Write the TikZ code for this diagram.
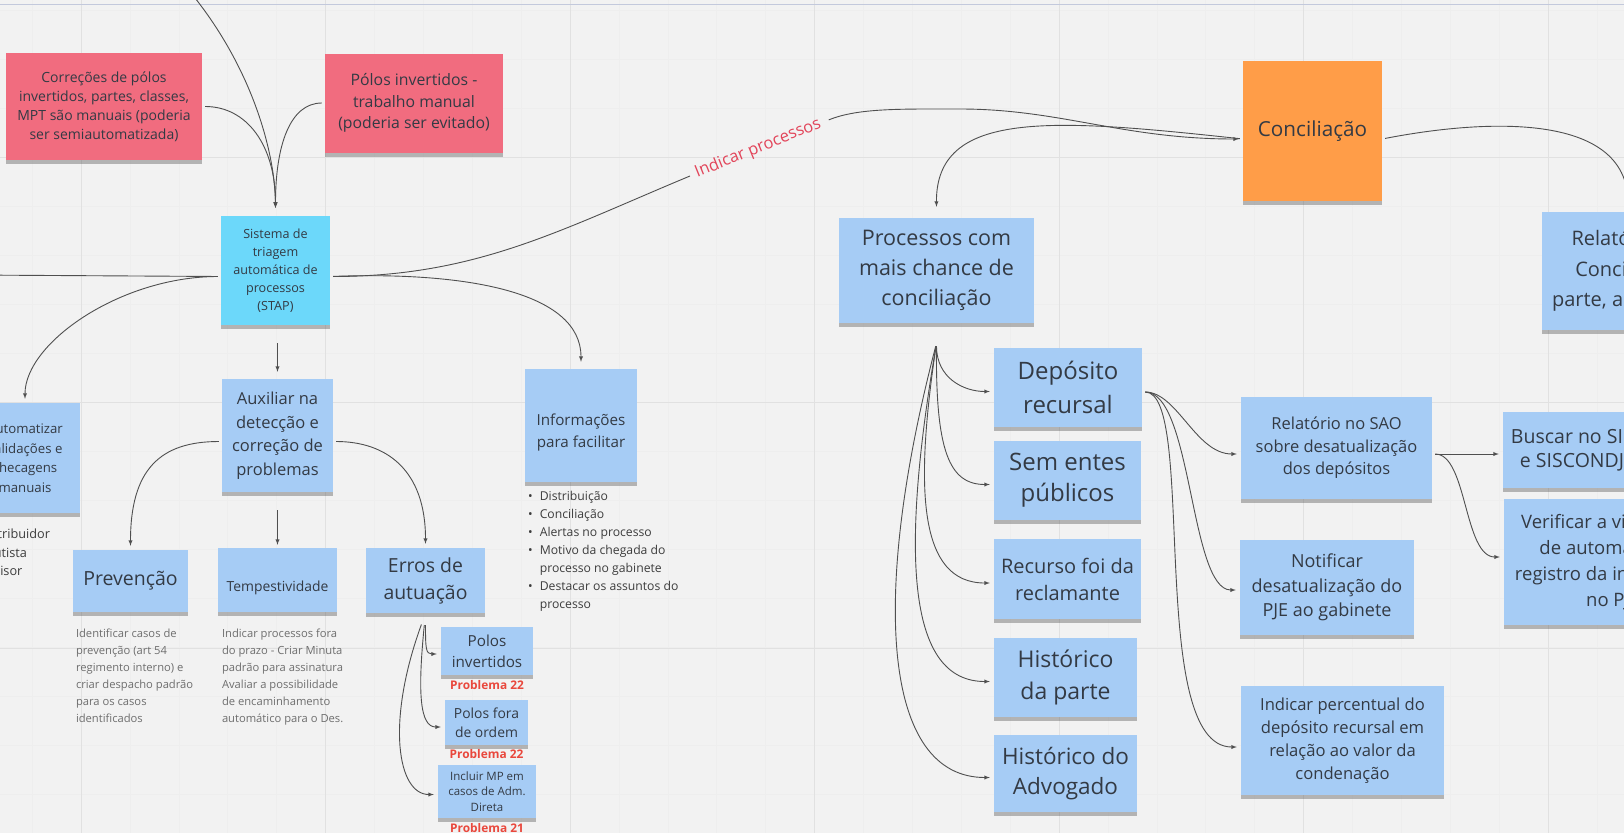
\documentclass[tikz,border=0pt]{standalone}
\usepackage{fontspec}
\setmainfont{Open Sans}
\usetikzlibrary{shapes,arrows,positioning,shadows}

\definecolor{bgcol}{HTML}{F2F2F2}
\definecolor{gridmaj}{HTML}{E1E1E1}
\definecolor{gridmin}{HTML}{EEEEEE}
\definecolor{framecol}{HTML}{C3C9DC}
\definecolor{mred}{HTML}{F16C7F}
\definecolor{mcyan}{HTML}{6CD8FA}
\definecolor{mblue}{HTML}{A6CCF5}
\definecolor{morange}{HTML}{FF9D48}
\definecolor{txt}{HTML}{333A44}
\definecolor{lin}{HTML}{4F4F4F}
\definecolor{desctxt}{HTML}{6E6E6E}
\definecolor{listtxt}{HTML}{3D3D3D}
\definecolor{probred}{HTML}{E9483D}
\definecolor{iptxt}{HTML}{E2455A}

\newcommand{\fsz}[2]{\fontsize{#1pt}{#2pt}\selectfont}

\begin{document}
\begin{tikzpicture}[
                  x=1pt, y=-1pt,
                  sticky/.style={rectangle, align=center, text=txt, inner sep=0pt,
                        drop shadow={shadow xshift=0pt, shadow yshift=-4pt, opacity=.35, fill=black!75}},
                  redsticky/.style={sticky, fill=mred},
                  cyansticky/.style={sticky, fill=mcyan},
                  bluesticky/.style={sticky, fill=mblue},
                  orangesticky/.style={sticky, fill=morange},
                  line/.style={draw=lin, line width=0.9pt, -latex, shorten >=4pt, shorten <=3pt},
                  link/.style={draw=lin, line width=0.9pt, shorten <=3pt},
                  desc/.style={align=left, inner sep=0pt, text=desctxt, font=\fsz{11.2}{17}},
                  prob/.style={inner sep=0pt, text=probred, font=\fsz{11.9}{14}\bfseries},
                  iplabel/.style={inner sep=0pt, text=iptxt, font=\fsz{16.5}{20}}
            ]

            % Board
            \useasboundingbox (0,0) rectangle (1624,833);
            \clip (0,0) rectangle (1624,833);
            \fill[bgcol] (0,0) rectangle (1624,833);
            \foreach \gx in {32.1,81,...,1624} \draw[gridmin, line width=0.5pt] (\gx,0) -- (\gx,833);
            \foreach \gy in {10,59,...,833} \draw[gridmin, line width=0.5pt] (0,\gy) -- (1624,\gy);
            \foreach \gx in {81,325.5,...,1600} \draw[gridmaj, line width=0.8pt] (\gx,0) -- (\gx,833);
            \foreach \gy in {157,402,648} \draw[gridmaj, line width=0.8pt] (0,\gy) -- (1624,\gy);
            \draw[framecol, line width=1.5pt] (0,4.5) -- (1624,4.5);

            % Nodes
            \node [redsticky, minimum width=196pt, minimum height=107pt, font=\fsz{14}{19}] (corr) at (104,106.5) {Correções de pólos\\invertidos, partes, classes,\\MPT são manuais (poderia\\ser semiautomatizada)};
            \node [redsticky, minimum width=178pt, minimum height=99pt, font=\fsz{15.8}{21.5}] (polman) at (414,103) {Pólos invertidos -\\trabalho manual\\(poderia ser evitado)};
            \node [cyansticky, minimum width=109pt, minimum height=109pt, font=\fsz{12.6}{18}] (stap) at (275.5,270.5) {Sistema de\\triagem\\automática de\\processos\\(STAP)};
            \node [bluesticky, minimum width=110pt, minimum height=110pt, font=\fsz{13.2}{19.5}] (autom) at (25,458) {Automatizar\\validações e\\checagens\\manuais};
            \node [bluesticky, minimum width=111pt, minimum height=113pt, font=\fsz{16.5}{23.5}] (aux) at (277.5,435.5) {Auxiliar na\\detecção e\\correção de\\problemas};
            \node [bluesticky, minimum width=112pt, minimum height=113pt] (info) at (581,425.5) {};
            \node [bluesticky, minimum width=115pt, minimum height=62pt, font=\fsz{19.5}{26}] (prev) at (130.5,581) {Prevenção};
            \node [bluesticky, minimum width=119pt, minimum height=64pt] (tempest) at (277.5,580) {};
            \node [bluesticky, minimum width=119pt, minimum height=65pt, font=\fsz{19.4}{27}] (erros) at (425.5,580.5) {Erros de\\autuação};
            \node [bluesticky, minimum width=92pt, minimum height=48pt, font=\fsz{15.2}{21}] (polinv) at (487,651) {Polos\\invertidos};
            \node [bluesticky, minimum width=83pt, minimum height=45pt, font=\fsz{13.9}{19}] (polfora) at (486.5,722.5) {Polos fora\\de ordem};
            \node [bluesticky, minimum width=98pt, minimum height=53pt, font=\fsz{11.5}{15.5}] (incluir) at (487,791.5) {Incluir MP em\\casos de Adm.\\Direta};

            \node [orangesticky, minimum width=139pt, minimum height=140pt, font=\fsz{20.7}{26}] (concil) at (1312.5,131) {Conciliação};
            \node [bluesticky, minimum width=195pt, minimum height=105pt, font=\fsz{21.5}{30}] (proc) at (936.5,270.5) {Processos com\\mais chance de\\conciliação};
            \node [bluesticky, minimum width=148pt, minimum height=79pt, font=\fsz{24}{34}] (dep) at (1068,387.5) {Depósito\\recursal};
            \node [bluesticky, minimum width=147pt, minimum height=79pt, font=\fsz{24}{31}] (sem) at (1067.5,480.5) {Sem entes\\públicos};
            \node [bluesticky, minimum width=147pt, minimum height=80pt, font=\fsz{20}{27}] (rec) at (1067.5,579) {Recurso foi da\\reclamante};
            \node [bluesticky, minimum width=143pt, minimum height=79pt, font=\fsz{23}{32}] (hpar) at (1065.5,677.5) {Histórico\\da parte};
            \node [bluesticky, minimum width=143pt, minimum height=77pt, font=\fsz{22.5}{30}] (hadv) at (1065.5,773.5) {Histórico do\\Advogado};
            \node [bluesticky, minimum width=191pt, minimum height=102pt, font=\fsz{16.5}{22.5}] (sao) at (1336.5,448) {Relatório no SAO\\sobre desatualização\\dos depósitos};
            \node [bluesticky, minimum width=174pt, minimum height=95pt, font=\fsz{18}{24.5}] (notif) at (1327,587.5) {Notificar\\desatualização do\\PJE ao gabinete};
            \node [bluesticky, minimum width=203pt, minimum height=109pt, font=\fsz{16.6}{23}] (perc) at (1342.5,740.5) {Indicar percentual do\\depósito recursal em\\relação ao valor da\\condenação};
            \node [bluesticky, minimum width=172pt, minimum height=118pt, font=\fsz{20}{30.5}] (relconc) at (1628,271) {Relatório de\\Conciliação\\parte, advogado};
            \node [bluesticky, minimum width=138pt, minimum height=76pt, font=\fsz{19.5}{24}] (busc) at (1572,450) {Buscar no SIF\\e SISCONDJ};
            \node [bluesticky, minimum width=218pt, minimum height=126pt, font=\fsz{18.5}{26}] (verif) at (1613,562) {Verificar a viabilidade\\de automatizar o\\registro da informação\\no PJE};

            \coordinate (topin) at (180,-20);
            \coordinate (leftout) at (-30,275);
            \coordinate (stapl) at ([yshift=-6pt]stap.west);
            \coordinate (stapr) at ([yshift=-6pt]stap.east);
            \coordinate (ipa) at (690,176);
            \coordinate (ipb) at (826,121);
            \coordinate (ipc) at (960,109);
            \coordinate (fan) at ([yshift=-20pt]proc.south);
            \coordinate (depr) at ([yshift=-4.5pt]dep.east);
            \coordinate (saor) at ([yshift=-6pt]sao.east);

            % Edges
            \path [line, shorten >=8pt] (topin) .. controls (250,60) and (275,150) .. (stap.north);
            \path [line, shorten >=8pt] (corr.east) .. controls +(45,0) and +(0,-70) .. (stap.north);
            \path [line, shorten >=8pt] (polman.west) .. controls +(-35,0) and +(0,-70) .. (stap.north);
            \path [line] (stapl) -- (leftout);
            \path [line] (stapl) .. controls +(-100,0) and +(0,-60) .. (autom.north);
            \path [link] (stapr) .. controls +(146,0) and +(-130,54) .. (ipa);
            \path [line] (ipb) .. controls +(32,-13) and +(-60,0) .. (ipc) .. controls +(100,0) and +(-120,0) .. ([yshift=-8pt]concil.west);
            \path [line, shorten >=7pt] (stapr) .. controls +(136,-5) and +(0,-77) .. (info.north);
            \path [line, shorten <=18pt, shorten >=7pt] (stap.south -| aux.north) -- (aux.north);
            \path [line, shorten <=18pt, shorten >=3pt] (aux.south) -- (tempest.north);
            \path [line] ([yshift=-6pt]aux.west) .. controls +(-62,0) and +(0,-80) .. (prev.north);
            \path [line] ([yshift=-6pt]aux.east) .. controls +(53,0) and +(0,-78) .. (erros.north);
            \path [line, shorten <=12pt] (erros.south) .. controls +(0,35) and +(-15,0) .. ([yshift=-3pt]polinv.west);
            \path [line, shorten <=12pt] (erros.south) .. controls +(-8,80) and +(-25,0) .. ([yshift=-4.5pt]polfora.west);
            \path [line, shorten <=12pt] (erros.south) .. controls +(-40,110) and +(-40,0) .. ([yshift=-3pt]incluir.west);

            \path [line, shorten >=11pt] ([yshift=-8pt]concil.west) .. controls (1050,118) and (936,110) .. (proc.north);
            \path [line] ([yshift=-8pt]concil.east) .. controls (1480,120) and (1628,110) .. (relconc.north);
            \path [line] (fan) .. controls +(0,35) and +(-30,0) .. ([yshift=-4pt]dep.west);
            \path [line] (fan) .. controls +(-1,107) and +(-45,0) .. ([yshift=-4pt]sem.west);
            \path [line] (fan) .. controls +(-22,147) and +(-75,0) .. ([yshift=-4pt]rec.west);
            \path [line] (fan) .. controls +(-37,217) and +(-85,0) .. ([yshift=-4pt]hpar.west);
            \path [line] (fan) .. controls +(-67,257) and +(-110,0) .. ([yshift=-4pt]hadv.west);
            \path [line] (depr) .. controls +(35,0) and +(-45,0) .. ([yshift=-6pt]sao.west);
            \path [line] (depr) .. controls +(50,0) and +(-50,0) .. ([yshift=-2.5pt]notif.west);
            \path [line] (depr) .. controls +(55,0) and +(-95,0) .. ([yshift=-6.5pt]perc.west);
            \path [line] (saor) -- ([yshift=-4pt]busc.west);
            \path [line] (saor) .. controls +(35,0) and +(-40,0) .. ([yshift=5pt]verif.west);

            % Labels
            \node [iplabel, rotate=22] (ipl) at (758,148.5) {Indicar processos};
            \node [text=txt, inner sep=0pt, font=\fsz{15.2}{22}, align=center] (infotxt) at ([yshift=-7.5pt]info.center) {Informações\\para facilitar};
            \node [text=txt, inner sep=0pt, font=\fsz{13.9}{18}] (tempesttxt) at ([yshift=-8pt]tempest.center) {Tempestividade};
            \node [inner sep=0pt, text=listtxt, font=\fsz{12.2}{18}, anchor=north west] (infolist) at (528,488) {%
                  \begin{tabular}{@{}l@{\hspace{7pt}}l@{}}
                  • & Distribuição\\
                  • & Conciliação\\
                  • & Alertas no processo\\
                  • & Motivo da chegada do\\
                    & processo no gabinete\\
                  • & Destacar os assuntos do\\
                    & processo
                  \end{tabular}};
            \node [desc, text=listtxt, font=\fsz{12.7}{18.5}, anchor=north west] (roles) at (-21,529) {Distribuidor\\Pautista\\Revisor};
            \node [desc, below right=17pt and 3pt of prev.south west] (prevdesc) {Identificar casos de\\prevenção (art 54\\regimento interno) e\\criar despacho padrão\\para os casos\\identificados};
            \node [desc, below right=17pt and 4pt of tempest.south west] (tempdesc) {Indicar processos fora\\do prazo - Criar Minuta\\padrão para assinatura\\Avaliar a possibilidade\\de encaminhamento\\automático para o Des.};
            \node [prob, below=5pt of polinv] (prob1) {Problema 22};
            \node [prob, below=4pt of polfora] (prob2) {Problema 22};
            \node [prob, below=5pt of incluir] (prob3) {Problema 21};
      \end{tikzpicture}
\end{document}
